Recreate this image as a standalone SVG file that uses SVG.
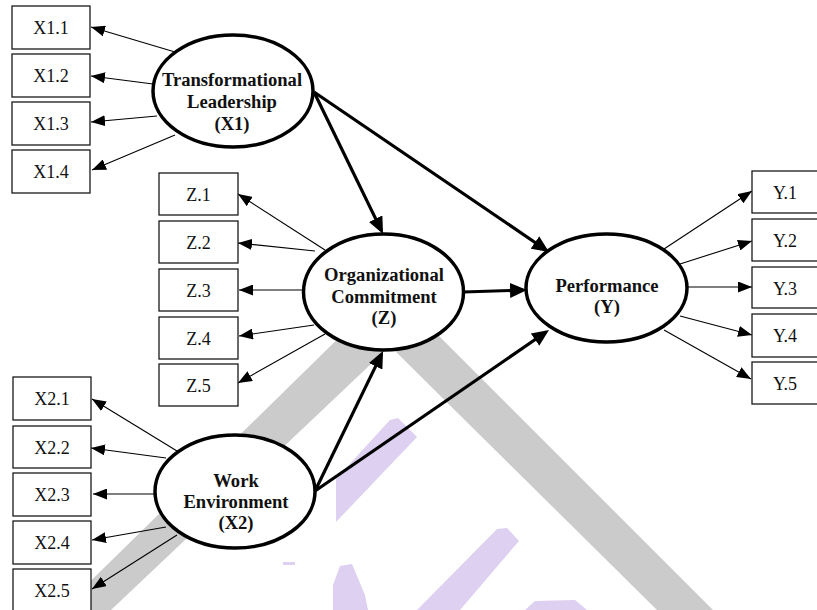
<svg xmlns="http://www.w3.org/2000/svg" width="817" height="610" viewBox="0 0 817 610">
<style>
.box{fill:#fff;stroke:#1a1a1a;stroke-width:1.3}
.lat{fill:#fff;stroke:#000;stroke-width:3.5}
.t{font-family:"Liberation Serif","Times New Roman",serif;font-size:18px;fill:#111;text-anchor:middle}
.b{font-weight:bold;font-size:18.6px}
.thin{stroke:#000;stroke-width:1.1;fill:none;marker-end:url(#aThin)}
.thick{stroke:#000;stroke-width:3.2;fill:none;marker-end:url(#aThick)}
.wg{fill:#cbcbcb}
.wp{fill:#ddd0f0}
</style>
<defs>
<marker id="aThin" markerUnits="userSpaceOnUse" markerWidth="14" markerHeight="11" refX="14" refY="5.5" orient="auto">
<path d="M0,0 L14,5.5 L0,11 z" fill="#000"/>
</marker>
<marker id="aThick" markerUnits="userSpaceOnUse" markerWidth="17" markerHeight="15" refX="13" refY="7.5" orient="auto">
<path d="M0,0 L17,7.5 L0,15 z" fill="#000"/>
</marker>
</defs>
<rect width="817" height="610" fill="#fff"/>
<g id="watermark">
<polygon class="wg" points="61,610 357,320 423,320 713,610 657,610 390,346 111,610"/>
<polygon class="wp" points="390,420 398,418 417,437 336,522 336,479"/>
<polygon class="wp" points="497,529 507,528 519,541 460,610 417,610"/>
<polygon class="wp" points="525,610 535,601 575,600 587,610"/>
<polygon class="wp" points="340,566 352,564 365,595 368,610 333,610 333,585"/>
<rect class="wp" x="283" y="562" width="12" height="3"/>
</g>
<g id="connectors">
<line class="thin" x1="175" y1="52" x2="91" y2="27"/>
<line class="thin" x1="153" y1="84" x2="91" y2="76"/>
<line class="thin" x1="157" y1="116" x2="91" y2="122"/>
<line class="thin" x1="175" y1="135" x2="92" y2="170"/>
<line class="thin" x1="325" y1="250" x2="238" y2="194"/>
<line class="thin" x1="315" y1="251" x2="238" y2="243"/>
<line class="thin" x1="303" y1="290" x2="239" y2="290"/>
<line class="thin" x1="314" y1="325" x2="239" y2="336"/>
<line class="thin" x1="325" y1="334" x2="238" y2="383"/>
<line class="thin" x1="177" y1="451" x2="92" y2="399"/>
<line class="thin" x1="166" y1="458" x2="91" y2="448"/>
<line class="thin" x1="155" y1="494" x2="93" y2="494"/>
<line class="thin" x1="166" y1="527" x2="92" y2="540"/>
<line class="thin" x1="177" y1="535" x2="92" y2="589"/>
<line class="thin" x1="664" y1="249" x2="752" y2="191"/>
<line class="thin" x1="680" y1="264" x2="752" y2="241"/>
<line class="thin" x1="687" y1="287" x2="752" y2="287"/>
<line class="thin" x1="680" y1="316" x2="752" y2="335"/>
<line class="thin" x1="664" y1="330" x2="751" y2="379"/>
<line class="thick" x1="314" y1="92" x2="381.3" y2="230.4"/>
<line class="thick" x1="314" y1="92" x2="545.7" y2="249.7"/>
<line class="thick" x1="463" y1="292" x2="523" y2="290.1"/>
<line class="thick" x1="315" y1="491" x2="381.3" y2="354.6"/>
<line class="thick" x1="315" y1="491" x2="545.7" y2="332.3"/>
</g>
<g id="X1">
<ellipse class="lat" cx="233" cy="91" rx="80" ry="56"/>
<text class="t b" x="232" y="86">Transformational</text>
<text class="t b" x="232" y="108">Leadership</text>
<text class="t b" x="232" y="130">(X1)</text>
</g>
<g id="Z">
<ellipse class="lat" cx="383.5" cy="292" rx="80" ry="58"/>
<text class="t b" x="384" y="281">Organizational</text>
<text class="t b" x="384" y="303">Commitment</text>
<text class="t b" x="384" y="324">(Z)</text>
</g>
<g id="X2">
<ellipse class="lat" cx="235" cy="491.5" rx="80" ry="56.5"/>
<text class="t b" x="236" y="487">Work</text>
<text class="t b" x="236" y="508">Environment</text>
<text class="t b" x="236" y="529">(X2)</text>
</g>
<g id="Y">
<ellipse class="lat" cx="606.5" cy="288" rx="80.5" ry="54"/>
<text class="t b" x="607" y="292">Performance</text>
<text class="t b" x="607" y="313">(Y)</text>
</g>
<g id="X1.1"><rect class="box" x="12" y="6" width="78" height="43"/><text class="t" x="51" y="34">X1.1</text></g>
<g id="X1.2"><rect class="box" x="12" y="54" width="78" height="43"/><text class="t" x="51" y="82">X1.2</text></g>
<g id="X1.3"><rect class="box" x="12" y="102" width="78" height="43"/><text class="t" x="51" y="130">X1.3</text></g>
<g id="X1.4"><rect class="box" x="12" y="150" width="78" height="43"/><text class="t" x="51" y="178">X1.4</text></g>
<g id="Z.1"><rect class="box" x="159" y="173" width="79" height="42"/><text class="t" x="198.5" y="200.5">Z.1</text></g>
<g id="Z.2"><rect class="box" x="159" y="221" width="79" height="42"/><text class="t" x="198.5" y="248.5">Z.2</text></g>
<g id="Z.3"><rect class="box" x="159" y="269" width="79" height="42"/><text class="t" x="198.5" y="296.5">Z.3</text></g>
<g id="Z.4"><rect class="box" x="159" y="317" width="79" height="42"/><text class="t" x="198.5" y="344.5">Z.4</text></g>
<g id="Z.5"><rect class="box" x="159" y="364" width="79" height="42"/><text class="t" x="198.5" y="391.5">Z.5</text></g>
<g id="X2.1"><rect class="box" x="13" y="377" width="78" height="43"/><text class="t" x="52" y="405">X2.1</text></g>
<g id="X2.2"><rect class="box" x="13" y="426" width="78" height="42"/><text class="t" x="52" y="453.5">X2.2</text></g>
<g id="X2.3"><rect class="box" x="13" y="473" width="78" height="43"/><text class="t" x="52" y="501">X2.3</text></g>
<g id="X2.4"><rect class="box" x="13" y="521" width="78" height="43"/><text class="t" x="52" y="549">X2.4</text></g>
<g id="X2.5"><rect class="box" x="13" y="569" width="78" height="43"/><text class="t" x="52" y="597">X2.5</text></g>
<g id="Y.1"><rect class="box" x="752" y="171" width="80" height="42"/><text class="t" x="785" y="198.5">Y.1</text></g>
<g id="Y.2"><rect class="box" x="752" y="219" width="80" height="42"/><text class="t" x="785" y="246.5">Y.2</text></g>
<g id="Y.3"><rect class="box" x="752" y="267" width="80" height="41"/><text class="t" x="785" y="294.5">Y.3</text></g>
<g id="Y.4"><rect class="box" x="752" y="314" width="80" height="43"/><text class="t" x="785" y="342">Y.4</text></g>
<g id="Y.5"><rect class="box" x="752" y="362" width="80" height="42"/><text class="t" x="785" y="389.5">Y.5</text></g>
</svg>
